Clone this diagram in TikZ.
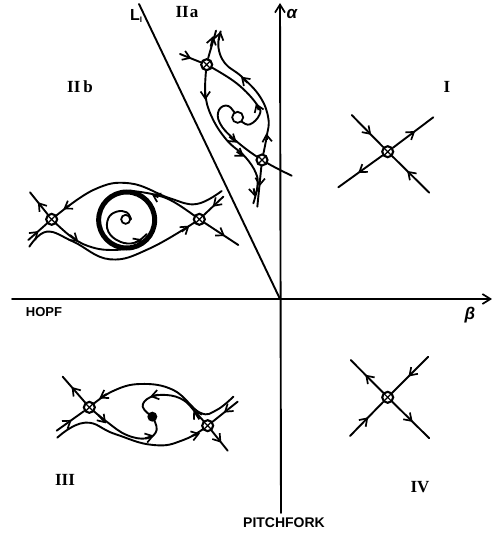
\documentclass[tikz,border=0pt]{standalone}
\usepackage{fontspec}
\setmainfont{Liberation Sans}
\newfontfamily\romanlab{Liberation Serif}
\usetikzlibrary{arrows.meta,decorations.markings,backgrounds}
\tikzset{
  line/.style={line width=1.9pt,line cap=round,line join=round},
  endbarb/.style={-{Straight Barb[length=7pt,width=9.5pt,line width=1.7pt]}},
  ma/.style={postaction={decorate,decoration={markings,mark=at position #1 with {\arrow{Straight Barb[length=7pt,width=9.5pt,line width=1.7pt]}}}}},
  saddle/.style={circle,draw,line width=2.1pt,fill=white,minimum size=11pt,inner sep=0pt,
    path picture={\draw[line width=1.2pt] (path picture bounding box.north west)--(path picture bounding box.south east)
      (path picture bounding box.north east)--(path picture bounding box.south west);}},
  ring/.style={circle,draw,line width=1.8pt,fill=white,minimum size=#1,inner sep=0pt},
  dot/.style={circle,fill=black,minimum size=10pt,inner sep=0pt},
  sanslab/.style={font=\fontsize{13}{13}\selectfont\bfseries,inner sep=0pt},
  romlab/.style={font=\fontsize{17}{17}\selectfont\romanlab\bfseries,inner sep=0pt},
  greeklab/.style={font=\fontsize{17}{17}\selectfont\bfseries\itshape,inner sep=0pt},
  zoomed/.style={x=0.33333pt,y=-0.33333pt}
}
\newcommand{\headat}[2]{\draw[line width=1.9pt,line cap=butt,endbarb] (#1) -- (#2);}
\begin{document}
\begin{tikzpicture}[x=1pt,y=-1pt]
\useasboundingbox (0,0) rectangle (492,535);
% axes
\coordinate (atop) at (280,3); \coordinate (abot) at (281,513);
\coordinate (bl) at (12,299); \coordinate (br) at (492,299);
\coordinate (ltop) at (139,4); \coordinate (origin) at (280,299);
\draw[line,-{Straight Barb[length=8pt,width=10pt,line width=1.7pt]}] (abot) -- (atop);
\draw[line,-{Straight Barb[length=8pt,width=10pt,line width=1.7pt]}] (bl) -- (br);
\draw[line] (ltop) -- (origin);
% labels
\node[romlab] (lIIa) at (187,12) {II\kern1pt a};
\node[romlab] (lIIb) at (80,87) {II\kern3pt b};
\node[romlab] (lI) at (447,87) {I};
\node[romlab] (lIII) at (65,480) {III};
\node[romlab] (lIV) at (420,487) {IV};
\node[sanslab,font=\fontsize{16}{16}\selectfont\bfseries] (lL) at (136,16) {L\raisebox{-2pt}{\fontsize{8}{8}\selectfont I}};
\node[greeklab] (la) at (292,14) {α};
\node[greeklab] (lb) at (470,315) {β};
\node[sanslab] (lh) at (44,312) {HOPF};
\node[sanslab,font=\fontsize{14}{14}\selectfont\bfseries] (lp) at (284,523) {PITCHFORK};

% Quadrant I
\node[saddle] (q1) at (387.7,151.7) {};
\coordinate (q1a) at (351.7,115); \coordinate (q1b) at (433.3,117.3);
\coordinate (q1c) at (338.3,187.3); \coordinate (q1d) at (429.3,192.7);
% Quadrant IV
\node[saddle] (q4) at (387.7,397.3) {};
\coordinate (q4a) at (350.7,360); \coordinate (q4b) at (428.3,356.7);
\coordinate (q4c) at (350,436); \coordinate (q4d) at (429.3,438.3);
\begin{scope}[on background layer]
\draw[line,ma=0.62] (q1a) -- (q1);
\draw[line,ma=0.6] (q1d) -- (q1);
\draw[line,ma=0.55] (q1) -- (q1b);
\draw[line,ma=0.55] (q1) -- (q1c);
\draw[line,ma=0.55] (q4b) -- (q4);
\draw[line,ma=0.55] (q4c) -- (q4);
\draw[line,ma=0.55] (q4) -- (q4a);
\draw[line,ma=0.55] (q4) -- (q4d);
\end{scope}

% Region IIa (coordinates of the crop at 170,30, x3)
\begin{scope}[shift={(170,30)},zoomed]
\node[saddle] (a1) at (110,104) {};
\node[saddle] (a2) at (276,390) {};
\node[ring=11pt] (af) at (203,262) {};
\coordinate (a1in) at (30,72);
\coordinate (a1up) at (138,2);
\coordinate (a2top) at (152,4);
\coordinate (a2r) at (365,437);
\coordinate (a2d) at (262,530);
\coordinate (a1d) at (250,520);
\begin{scope}[on background layer]
\draw[line,ma=0.55] (a1in) -- (a1);
\draw[line] (a1) .. controls (118,70) and (128,40) .. (a1up);
\draw[line] plot[smooth,tension=0.7] coordinates {(a1) (106,190) (125,260) (170,330) (225,380) (258,430) (262,470) (a1d)};
\draw[line] plot[smooth,tension=0.7] coordinates {(a2) (290,320) (295,265) (270,200) (215,140) (165,100) (145,50) (a2top)};
\draw[line] plot[smooth,tension=0.7] coordinates {(a1) (200,160) (262,225) (268,255) (240,283) (215,275) (af)};
\draw[line] plot[smooth,tension=0.7] coordinates {(a2r) (276,390) (195,330) (150,280) (147,240) (175,228) (af)};
\draw[line,ma=0.5] (a2) -- (a2d);
\end{scope}
\headat{122,50}{130,18}
\headat{106,180}{106,210}
\headat{178,320}{200,338}
\headat{200,365}{222,380}
\headat{266,240}{258,220}
\headat{291,330}{289,310}
\headat{232,158}{213,140}
\headat{146,30}{152,4}
\headat{251,475}{255,500}
\end{scope}

% Region IIb (crop at 10,160, x3)
\begin{scope}[shift={(10,160)},zoomed]
\node[saddle] (b1) at (125,178) {};
\node[saddle] (b2) at (568,178) {};
\node[ring=9pt] (bc) at (347,178) {};
\coordinate (b1ul) at (60,97);
\coordinate (b1ll) at (55,240);
\coordinate (b1low) at (58,260);
\coordinate (b2ur) at (635,93);
\coordinate (b2ur2) at (640,110);
\coordinate (b2lr) at (685,255);
\begin{scope}[on background layer]
\draw[line,ma=0.55] (b1) -- (b1ul);
\draw[line,ma=0.55] (b1ll) -- (b1);
\draw[line,ma=0.55] (b2ur2) -- (b2);
\draw[line,ma=0.6] (b2) -- (b2lr);
\draw[line] plot[smooth,tension=0.7] coordinates {(b1low) (110,215) (190,245) (300,298) (420,265) (b2)};
\draw[line] plot[smooth,tension=0.7] coordinates {(b2ur) (560,132) (480,115) (360,70) (250,90) (b1)};
\draw[line] plot[smooth,tension=0.7] coordinates {(b2) (490,125) (430,103) (360,92)};
\draw[line] plot[smooth,tension=0.7] coordinates {(b1) (190,235) (250,263) (310,270) (365,264)};
\draw[line width=5pt] (350,180) circle[radius=28pt];
\draw[line] plot[smooth,tension=0.7] coordinates {(bc.east) (350,157) (320,155) (295,175) (295,215) (330,245) (375,248) (410,222)};
\end{scope}
\headat{180,135}{160,148}
\headat{515,215}{538,197}
\headat{445,112}{425,102}
\headat{180,225}{205,245}
\headat{375,248}{397,238}
\end{scope}

% Region III (crop at 40,360, x3)
\begin{scope}[shift={(40,360)},zoomed]
\node[saddle] (c1) at (148,142) {};
\node[saddle] (c2) at (503,197) {};
\node[dot] (cf) at (337,170) {};
\coordinate (c1ul) at (68,50);
\coordinate (c1ll) at (50,212);
\coordinate (c1low) at (52,233);
\coordinate (c2ur) at (580,110);
\coordinate (c2ur2) at (593,125);
\coordinate (c2lr) at (563,272);
\begin{scope}[on background layer]
\draw[line,ma=0.6] (c1) -- (c1ul);
\draw[line,ma=0.55] (c1ll) -- (c1);
\draw[line,ma=0.55] (c2ur2) -- (c2);
\draw[line,ma=0.6] (c2) -- (c2lr);
\draw[line] plot[smooth,tension=0.8] coordinates {(c1low) (135,188) (225,222) (340,255) (430,240) (c2)};
\draw[line] plot[smooth,tension=0.7] coordinates {(c2ur) (530,150) (480,158) (400,90) (300,72) (215,95) (c1)};
\draw[line] plot[smooth,tension=0.7] coordinates {(c1) (200,185) (260,225) (320,235) (350,210) (cf)};
\draw[line] plot[smooth,tension=0.7] coordinates {(c2) (465,155) (430,120) (380,105) (330,112) (308,140) (cf)};
\end{scope}
\headat{200,102}{178,115}
\headat{175,165}{198,190}
\headat{315,235}{342,227}
\headat{455,228}{480,220}
\headat{478,178}{460,150}
\headat{355,104}{330,110}
\end{scope}
\end{tikzpicture}
\end{document}
